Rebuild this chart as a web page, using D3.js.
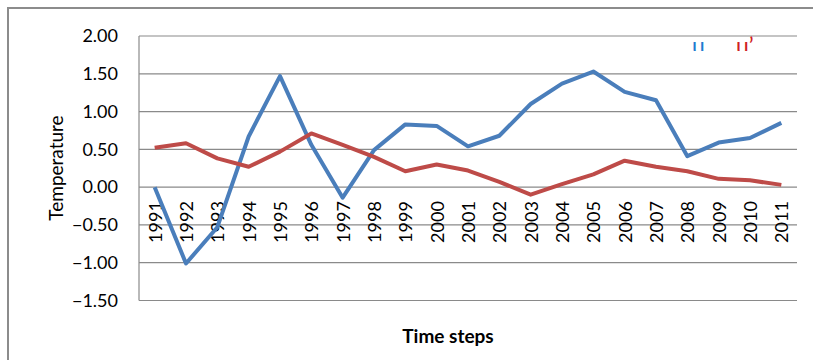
<!DOCTYPE html>
<html>
<head>
<meta charset="utf-8">
<script src="https://cdn.jsdelivr.net/npm/d3@7/dist/d3.min.js"></script>
<style>
  html, body { margin: 0; padding: 0; background: #fff; }
  svg { display: block; }
  text { font-family: Lato, "Open Sans", sans-serif; fill: #000; }
</style>
</head>
<body>
<svg id="chart" width="813" height="360"></svg>
<script>
// Time steps on the category axis
const years = ["1991","1992","1993","1994","1995","1996","1997","1998","1999","2000","2001",
               "2002","2003","2004","2005","2006","2007","2008","2009","2010","2011"];
// Series u (blue) and u' (red)
const seriesU = [0.00, -1.01, -0.53, 0.67, 1.47, 0.56, -0.14, 0.49, 0.83, 0.81, 0.54,
                 0.68, 1.10, 1.37, 1.53, 1.26, 1.15, 0.41, 0.59, 0.65, 0.85];
const seriesUPrime = [0.52, 0.58, 0.38, 0.27, 0.47, 0.71, 0.56, 0.40, 0.21, 0.30, 0.22,
                      0.07, -0.10, 0.04, 0.17, 0.35, 0.27, 0.21, 0.11, 0.09, 0.03];
const yTicks = [2.0, 1.5, 1.0, 0.5, 0.0, -0.5, -1.0, -1.5];

const svg = d3.select("#chart");
const plot = { left: 139, right: 797, top: 36, bottom: 300.5 };

const x = d3.scaleBand().domain(years).range([plot.left, plot.right]);
const y = d3.scaleLinear().domain([-1.5, 2.0]).range([plot.bottom, plot.top]);

// Outer chart frame
svg.append("path")
  .attr("d", `M8,360 V8 H813`)
  .attr("fill", "none")
  .attr("stroke", "#8c8c8c")
  .attr("stroke-width", 2);

// Horizontal gridlines
svg.append("g")
  .selectAll("line")
  .data(yTicks)
  .join("line")
  .attr("x1", plot.left).attr("x2", plot.right)
  .attr("y1", d => y(d)).attr("y2", d => y(d))
  .attr("stroke", "#8a8a8a")
  .attr("stroke-width", 1.2);

// Value axis line
svg.append("line")
  .attr("x1", plot.left).attr("x2", plot.left)
  .attr("y1", plot.top).attr("y2", plot.bottom)
  .attr("stroke", "#8a8a8a")
  .attr("stroke-width", 1.2);

// Value axis labels
const yAxis = d3.axisLeft(y).tickValues(yTicks).tickFormat(d3.format(".2f")).tickSize(0).tickPadding(21);
const gy = svg.append("g").attr("transform", `translate(${plot.left},0)`).call(yAxis);
gy.select(".domain").remove();
gy.selectAll("text")
  .style("font-family", "Lato, sans-serif")
  .style("font-size", "18px")
  .attr("fill", "#000");

// Category labels, rotated, sitting under the zero line
svg.append("g")
  .selectAll("text")
  .data(years)
  .join("text")
  .attr("transform", d => `translate(${x(d) + x.bandwidth() / 2 + 7},${y(0) + 14}) rotate(-90)`)
  .attr("text-anchor", "end")
  .style("font-size", "18px")
  .text(d => d);

// Series lines
const line = d3.line()
  .x((d, i) => x(years[i]) + x.bandwidth() / 2)
  .y(d => y(d));

svg.append("path")
  .datum(seriesU)
  .attr("d", line)
  .attr("fill", "none")
  .attr("stroke", "#4a7ebb")
  .attr("stroke-width", 4)
  .attr("stroke-linejoin", "round");

svg.append("path")
  .datum(seriesUPrime)
  .attr("d", line)
  .attr("fill", "none")
  .attr("stroke", "#be4b48")
  .attr("stroke-width", 4)
  .attr("stroke-linejoin", "round");

// Axis titles
svg.append("text")
  .attr("transform", `translate(63,168) rotate(-90)`)
  .attr("text-anchor", "middle")
  .style("font-size", "19px")
  .text("Temperature");

svg.append("text")
  .attr("x", 448).attr("y", 343)
  .attr("text-anchor", "middle")
  .style("font-size", "19px")
  .style("font-weight", "bold")
  .text("Time steps");

// Legend entries, clipped by the legend box
const defs = svg.append("defs");
defs.append("clipPath").attr("id", "legendClip")
  .append("rect").attr("x", 680).attr("y", 30).attr("width", 100).attr("height", 21);

const legend = svg.append("g").attr("clip-path", "url(#legendClip)");
legend.append("text")
  .attr("x", 692).attr("y", 54)
  .style("font-size", "23px")
  .style("fill", "#1f7bd0")
  .text("u");
legend.append("text")
  .attr("x", 736).attr("y", 54)
  .style("font-size", "23px")
  .style("fill", "#d01f24")
  .text("u\u2019");
</script>
</body>
</html>
